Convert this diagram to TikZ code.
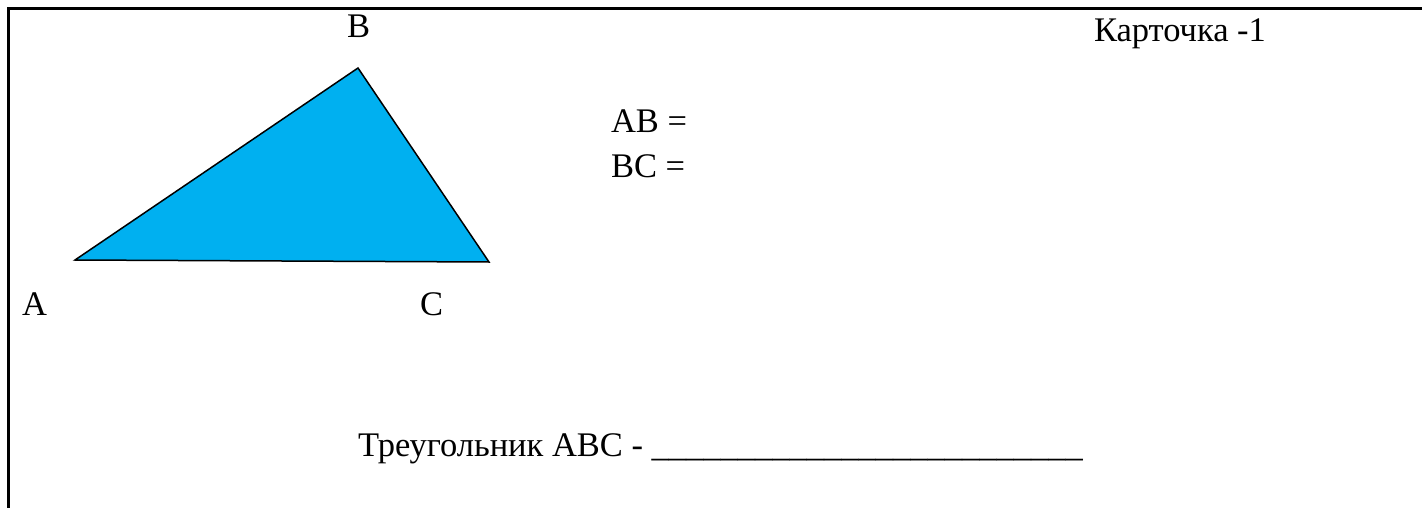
\documentclass[tikz,border=0pt]{standalone}
\usepackage{fontspec}
\setmainfont{Liberation Serif}
\definecolor{triblue}{HTML}{00B0F0}
\begin{document}
\begin{tikzpicture}[x=1pt,y=-1pt,
  lbl/.style={inner sep=0pt, outer sep=0pt, anchor=base west, font=\fontsize{34.5}{40}\selectfont},
  frameline/.style={line width=3pt},
  tri/.style={fill=triblue, draw=black, line width=1.5pt, line join=miter}]
\useasboundingbox (0,0) rectangle (1424,508);
\draw[frameline] (8,508) -- (8,9) -- (1422,9);
\coordinate (A) at (75,260);
\coordinate (B) at (358,68);
\coordinate (C) at (489,262);
\path[tri] (A) -- (B) -- (C) -- cycle;
\node[lbl] (lB) at (347,38) {B};
\node[lbl] (lA) at (22,315) {A};
\node[lbl] (lC) at (420,315) {C};
\node[lbl] (ab) at (611,133) {AB =};
\node[lbl] (bc) at (611,177) {BC =};
\node[lbl] (card) at (1094,42) {Карточка -1};
\node[lbl] (tri) at (358,456) {Треугольник ABC - \_\_\_\_\_\_\_\_\_\_\_\_\_\_\_\_\_\_\_\_\_\_\_\_\_};
\end{tikzpicture}
\end{document}
